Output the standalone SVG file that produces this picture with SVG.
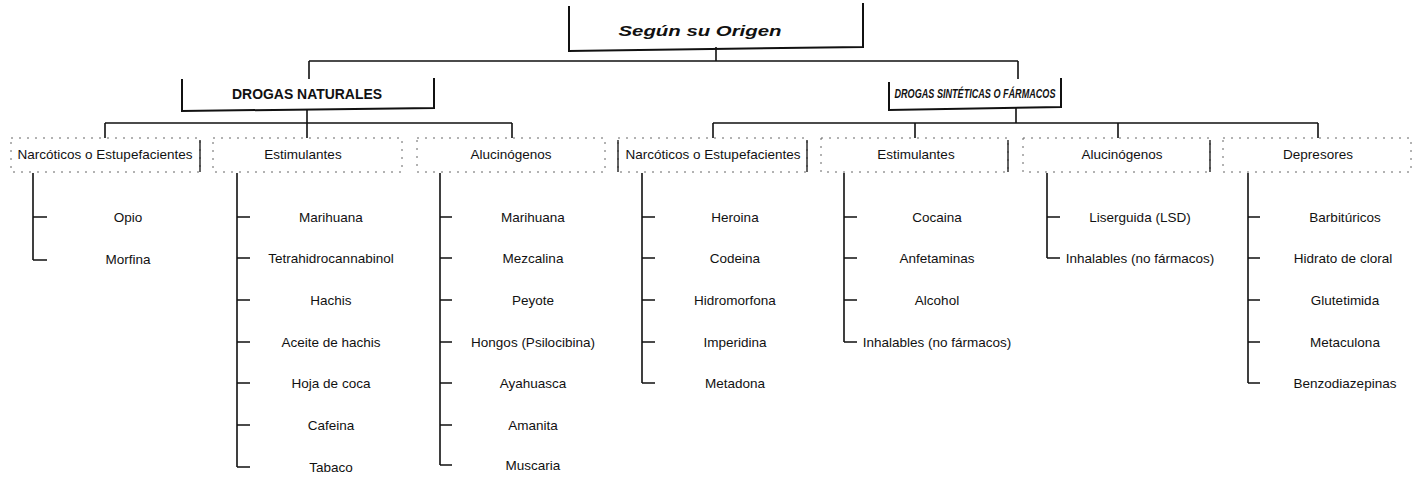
<svg xmlns="http://www.w3.org/2000/svg" width="1413" height="480" viewBox="0 0 1413 480">
<style>
.bg{fill:#fff}
.main{fill:none;stroke:#111;stroke-width:2}
.cat{fill:none;stroke:#666;stroke-width:1;stroke-dasharray:2 6}
.edge{fill:none;stroke:#222;stroke-width:1.4}
.con{fill:none;stroke:#111;stroke-width:1.6}
.t{font-family:"Liberation Sans",Arial,sans-serif;font-size:13.5px;fill:#111;text-anchor:middle}
.h{font-family:"Liberation Sans",Arial,sans-serif;font-weight:bold;fill:#111;text-anchor:middle}
</style>
<rect class="bg" width="1413" height="480"/>

<g id="connectors">
  <path class="con" d="M716,47 V61 M309,61 H1018 M309,61 V79 M1018,61 V79"/>
  <path class="con" d="M307,110 V138 M105,123 H512 M105,123 V138 M512,123 V138"/>
  <path class="con" d="M1016,108 V123 M713,123 H1318 M713,123 V138 M915,123 V138 M1118,123 V138 M1318,123 V138"/>
  <path class="con" d="M33,173 V260 M33,217 H47 M33,260 H47"/>
  <path class="con" d="M237,173 V467 M237,217 H250 M237,258 H250 M237,300 H250 M237,342 H250 M237,383 H250 M237,425 H250 M237,467 H250"/>
  <path class="con" d="M440,173 V465 M440,217 H452 M440,258 H452 M440,300 H452 M440,342 H452 M440,383 H452 M440,425 H452 M440,465 H452"/>
  <path class="con" d="M642,173 V383 M642,217 H655 M642,258 H655 M642,300 H655 M642,342 H655 M642,383 H655"/>
  <path class="con" d="M844,173 V342 M844,217 H857 M844,258 H857 M844,300 H857 M844,342 H857"/>
  <path class="con" d="M1047,173 V258 M1047,217 H1060 M1047,258 H1060"/>
  <path class="con" d="M1248,173 V383 M1248,217 H1260 M1248,258 H1260 M1248,300 H1260 M1248,342 H1260 M1248,383 H1260"/>
</g>

<g id="root">
  <path class="main" d="M569,6 L569,51 L863,47 L863,3"/>
  <text class="h" x="700" y="36" font-size="15" font-style="italic" textLength="163" lengthAdjust="spacingAndGlyphs">Según su Origen</text>
</g>

<g id="naturales">
  <path class="main" d="M182,79 L182,111 L434,108 L434,78"/>
  <text class="h" x="307" y="99" font-size="15" textLength="150" lengthAdjust="spacingAndGlyphs">DROGAS NATURALES</text>
</g>

<g id="sinteticas">
  <path class="main" d="M889,82 L889,110 L1061,107 L1061,78"/>
  <text class="h" x="975" y="98" font-size="13" font-style="italic" textLength="161" lengthAdjust="spacingAndGlyphs">DROGAS SINTÉTICAS O FÁRMACOS</text>
</g>

<g id="nat-narcoticos">
  <rect class="cat" x="11" y="138" width="189" height="34"/>
  <path class="edge" d="M200,140 V172"/>
  <text class="t" x="105" y="159">Narcóticos o Estupefacientes</text>
  <text class="t" x="128" y="222">Opio</text>
  <text class="t" x="128" y="264">Morfina</text>
</g>

<g id="nat-estimulantes">
  <rect class="cat" x="213" y="138" width="189" height="34"/>
  <text class="t" x="303" y="159">Estimulantes</text>
  <text class="t" x="331" y="222">Marihuana</text>
  <text class="t" x="331" y="263">Tetrahidrocannabinol</text>
  <text class="t" x="331" y="305">Hachis</text>
  <text class="t" x="331" y="347">Aceite de hachis</text>
  <text class="t" x="331" y="388">Hoja de coca</text>
  <text class="t" x="331" y="430">Cafeina</text>
  <text class="t" x="331" y="472">Tabaco</text>
</g>

<g id="nat-alucinogenos">
  <rect class="cat" x="417" y="138" width="188" height="34"/>
  <text class="t" x="511" y="159">Alucinógenos</text>
  <text class="t" x="533" y="222">Marihuana</text>
  <text class="t" x="533" y="263">Mezcalina</text>
  <text class="t" x="533" y="305">Peyote</text>
  <text class="t" x="533" y="347">Hongos (Psilocibina)</text>
  <text class="t" x="533" y="388">Ayahuasca</text>
  <text class="t" x="533" y="430">Amanita</text>
  <text class="t" x="533" y="470">Muscaria</text>
</g>

<g id="sin-narcoticos">
  <rect class="cat" x="618" y="138" width="189" height="34"/>
  <path class="edge" d="M618,140 V172 M807,140 V172"/>
  <text class="t" x="713" y="159">Narcóticos o Estupefacientes</text>
  <text class="t" x="735" y="222">Heroina</text>
  <text class="t" x="735" y="263">Codeina</text>
  <text class="t" x="735" y="305">Hidromorfona</text>
  <text class="t" x="735" y="347">Imperidina</text>
  <text class="t" x="735" y="388">Metadona</text>
</g>

<g id="sin-estimulantes">
  <rect class="cat" x="821" y="138" width="187" height="34"/>
  <path class="edge" d="M1008,140 V172"/>
  <text class="t" x="916" y="159">Estimulantes</text>
  <text class="t" x="937" y="222">Cocaina</text>
  <text class="t" x="937" y="263">Anfetaminas</text>
  <text class="t" x="937" y="305">Alcohol</text>
  <text class="t" x="937" y="347">Inhalables (no fármacos)</text>
</g>

<g id="sin-alucinogenos">
  <rect class="cat" x="1023" y="138" width="187" height="34"/>
  <path class="edge" d="M1210,140 V172"/>
  <text class="t" x="1122" y="159">Alucinógenos</text>
  <text class="t" x="1140" y="222">Liserguida (LSD)</text>
  <text class="t" x="1140" y="263">Inhalables (no fármacos)</text>
</g>

<g id="sin-depresores">
  <rect class="cat" x="1223" y="138" width="188" height="34"/>
  <text class="t" x="1318" y="159">Depresores</text>
  <text class="t" x="1345" y="222">Barbitúricos</text>
  <text class="t" x="1343" y="263">Hidrato de cloral</text>
  <text class="t" x="1345" y="305">Glutetimida</text>
  <text class="t" x="1345" y="347">Metaculona</text>
  <text class="t" x="1345" y="388">Benzodiazepinas</text>
</g>
</svg>
